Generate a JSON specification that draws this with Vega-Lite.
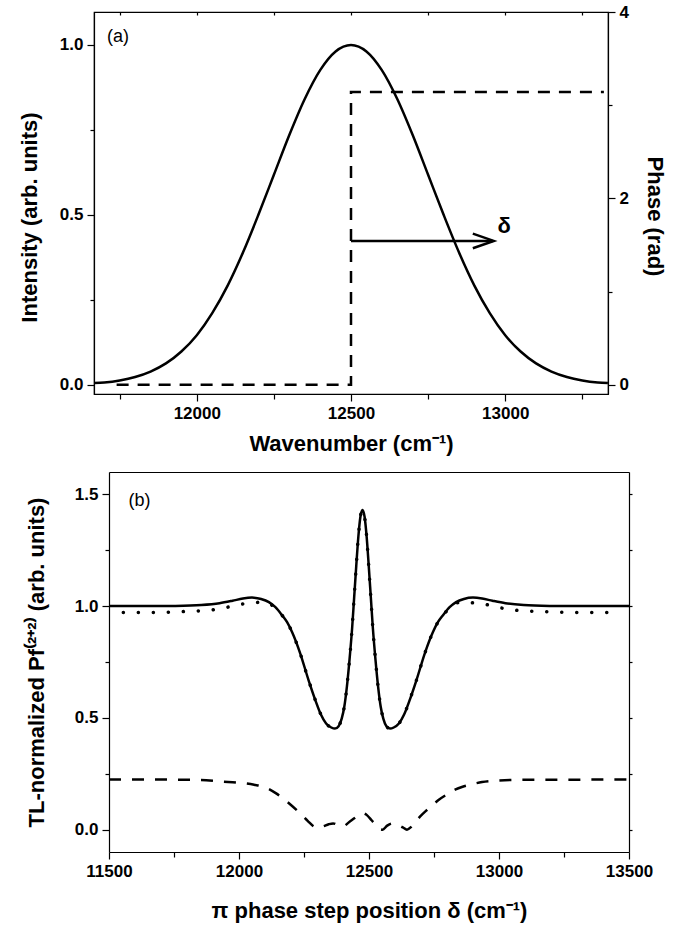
{
  "$schema": "https://vega.github.io/schema/vega-lite/v6.json",
  "background": "white",
  "padding": {"left": 17, "top": 2, "right": 5, "bottom": 4},
  "columns": 1,
  "bounds": "full",
  "spacing": 17,
  "config": {
    "font": "Liberation Sans",
    "view": {"stroke": "black", "strokeWidth": 1.2},
    "axis": {
      "domainColor": "black", "domainWidth": 1.2,
      "tickColor": "black", "tickWidth": 1.2,
      "labelColor": "black", "labelFont": "Liberation Sans", "labelFontWeight": "bold", "labelFontSize": 17,
      "titleColor": "black", "titleFont": "Liberation Sans", "titleFontWeight": "bold", "titleFontSize": 22,
      "grid": false, "labelPadding": 4, "labelOverlap": false, "labelBound": false, "labelFlush": false
    }
  },
  "concat": [
    {
      "width": 514,
      "height": 382,
      "layer": [
        {
          "data": {"values": [
            {"x": 11667, "I": 0.005}, {"x": 11700, "I": 0.007}, {"x": 11750, "I": 0.013}, {"x": 11800, "I": 0.023},
            {"x": 11850, "I": 0.039}, {"x": 11900, "I": 0.063}, {"x": 11950, "I": 0.098}, {"x": 12000, "I": 0.146},
            {"x": 12050, "I": 0.211}, {"x": 12100, "I": 0.292}, {"x": 12150, "I": 0.390}, {"x": 12200, "I": 0.501},
            {"x": 12250, "I": 0.618}, {"x": 12300, "I": 0.735}, {"x": 12350, "I": 0.841}, {"x": 12400, "I": 0.926},
            {"x": 12450, "I": 0.981}, {"x": 12500, "I": 1.0}, {"x": 12550, "I": 0.981}, {"x": 12600, "I": 0.926},
            {"x": 12650, "I": 0.841}, {"x": 12700, "I": 0.735}, {"x": 12750, "I": 0.618}, {"x": 12800, "I": 0.501},
            {"x": 12850, "I": 0.390}, {"x": 12900, "I": 0.292}, {"x": 12950, "I": 0.211}, {"x": 13000, "I": 0.146},
            {"x": 13050, "I": 0.098}, {"x": 13100, "I": 0.063}, {"x": 13150, "I": 0.039}, {"x": 13200, "I": 0.023},
            {"x": 13250, "I": 0.013}, {"x": 13300, "I": 0.007}, {"x": 13333, "I": 0.005}
          ]},
          "mark": {"type": "line", "color": "black", "strokeWidth": 2.5, "interpolate": "monotone"},
          "encoding": {
            "x": {"field": "x", "type": "quantitative",
              "scale": {"domain": [11666.67, 13333.33], "nice": false, "zero": false},
              "axis": {"title": "Wavenumber (cm⁻¹)", "values": [11750, 12000, 12250, 12500, 12750, 13000, 13250],
                "format": "d", "labelExpr": "datum.value % 500 === 0 ? datum.label : ''",
                "tickSize": {"condition": {"test": "datum.value % 500 === 0", "value": 7}, "value": 5},
                "titlePadding": 12}},
            "y": {"field": "I", "type": "quantitative",
              "scale": {"domain": [-0.027, 1.097], "nice": false, "zero": false},
              "axis": {"title": "Intensity (arb. units)", "orient": "left", "values": [0, 0.25, 0.5, 0.75, 1.0],
                "format": ".1f", "labelExpr": "datum.value === 0.25 || datum.value === 0.75 ? '' : datum.label",
                "tickSize": {"condition": {"test": "datum.value === 0.25 || datum.value === 0.75", "value": 4}, "value": 7},
                "titlePadding": 18, "titleY": 205}}
          }
        },
        {
          "data": {"values": [
            {"x": 11740, "p": 0, "o": 1}, {"x": 12500, "p": 0, "o": 2},
            {"x": 12500, "p": 3.1416, "o": 3}, {"x": 13320, "p": 3.1416, "o": 4}
          ]},
          "mark": {"type": "line", "color": "black", "strokeWidth": 2.5, "strokeDash": [12, 9]},
          "encoding": {
            "x": {"field": "x", "type": "quantitative",
              "axis": {"orient": "top", "title": null, "labels": false, "domain": false,
                "values": [11750, 12000, 12250, 12500, 12750, 13000, 13250], "tickSize": -3}},
            "y": {"field": "p", "type": "quantitative",
              "scale": {"domain": [-0.1, 4], "nice": false, "zero": false},
              "axis": {"title": "Phase (rad)", "orient": "right", "values": [0, 1, 2, 3, 4],
                "format": "d", "labelExpr": "datum.value === 1 || datum.value === 3 ? '' : datum.label",
                "tickSize": {"condition": {"test": "datum.value === 1 || datum.value === 3", "value": 4}, "value": 7},
                "labelPadding": 4, "titlePadding": 14, "titleY": 204}},
            "order": {"field": "o", "type": "quantitative"}
          }
        },
        {
          "data": {"values": [
            {"x": 12500, "y": 0.4235, "g": "shaft", "o": 1}, {"x": 12960, "y": 0.4235, "g": "shaft", "o": 2},
            {"x": 12895, "y": 0.445, "g": "head", "o": 1}, {"x": 12963, "y": 0.4235, "g": "head", "o": 2},
            {"x": 12895, "y": 0.402, "g": "head", "o": 3}
          ]},
          "mark": {"type": "line", "color": "black", "strokeWidth": 2.5},
          "encoding": {
            "x": {"field": "x", "type": "quantitative", "axis": null},
            "y": {"field": "y", "type": "quantitative", "scale": {"domain": [-0.027, 1.097], "nice": false, "zero": false}, "axis": null},
            "detail": {"field": "g"},
            "order": {"field": "o", "type": "quantitative"}
          }
        },
        {
          "data": {"values": [{"x": 12975, "y": 0.468, "t": "δ"}]},
          "mark": {"type": "text", "align": "left", "baseline": "middle", "color": "black", "font": "Liberation Sans", "fontWeight": "bold", "fontSize": 22},
          "encoding": {
            "x": {"field": "x", "type": "quantitative", "axis": null},
            "y": {"field": "y", "type": "quantitative", "scale": {"domain": [-0.027, 1.097], "nice": false, "zero": false}, "axis": null},
            "text": {"field": "t"}
          }
        },
        {
          "data": {"values": [{"x": 11709, "y": 1.0235, "t": "(a)"}]},
          "mark": {"type": "text", "align": "left", "baseline": "middle", "color": "black", "font": "Liberation Sans", "fontSize": 18},
          "encoding": {
            "x": {"field": "x", "type": "quantitative", "axis": null},
            "y": {"field": "y", "type": "quantitative", "scale": {"domain": [-0.027, 1.097], "nice": false, "zero": false}, "axis": null},
            "text": {"field": "t"}
          }
        }
      ],
      "resolve": {"scale": {"y": "independent"}, "axis": {"x": "independent"}}
    },
    {
      "width": 535,
      "height": 380,
      "view": {"stroke": null},
      "layer": [
        {
          "data": {"values": [
            {"x": 11500, "v": 1.0}, {"x": 11655, "v": 1.0}, {"x": 11755, "v": 1.001}, {"x": 11855, "v": 1.005},
            {"x": 11925, "v": 1.013}, {"x": 11975, "v": 1.024}, {"x": 12015, "v": 1.034}, {"x": 12050, "v": 1.038},
            {"x": 12085, "v": 1.032}, {"x": 12115, "v": 1.018}, {"x": 12140, "v": 0.995}, {"x": 12165, "v": 0.96},
            {"x": 12185, "v": 0.928}, {"x": 12204, "v": 0.884}, {"x": 12235, "v": 0.79}, {"x": 12268, "v": 0.667},
            {"x": 12295, "v": 0.575}, {"x": 12315, "v": 0.515}, {"x": 12335, "v": 0.475}, {"x": 12355, "v": 0.457},
            {"x": 12369, "v": 0.452}, {"x": 12383, "v": 0.463}, {"x": 12395, "v": 0.497}, {"x": 12405, "v": 0.55},
            {"x": 12415, "v": 0.64}, {"x": 12425, "v": 0.76}, {"x": 12435, "v": 0.90}, {"x": 12443, "v": 1.04},
            {"x": 12451, "v": 1.18}, {"x": 12459, "v": 1.31}, {"x": 12467, "v": 1.40}, {"x": 12475, "v": 1.43},
            {"x": 12483, "v": 1.40}, {"x": 12491, "v": 1.31}, {"x": 12499, "v": 1.18}, {"x": 12507, "v": 1.04},
            {"x": 12515, "v": 0.90}, {"x": 12525, "v": 0.76}, {"x": 12535, "v": 0.64}, {"x": 12545, "v": 0.55},
            {"x": 12555, "v": 0.497}, {"x": 12567, "v": 0.463}, {"x": 12581, "v": 0.452}, {"x": 12595, "v": 0.457},
            {"x": 12615, "v": 0.475}, {"x": 12635, "v": 0.515}, {"x": 12655, "v": 0.575}, {"x": 12682, "v": 0.667},
            {"x": 12715, "v": 0.79}, {"x": 12746, "v": 0.884}, {"x": 12765, "v": 0.928}, {"x": 12785, "v": 0.96},
            {"x": 12810, "v": 0.995}, {"x": 12835, "v": 1.018}, {"x": 12865, "v": 1.032}, {"x": 12900, "v": 1.038},
            {"x": 12935, "v": 1.034}, {"x": 12975, "v": 1.024}, {"x": 13025, "v": 1.013}, {"x": 13095, "v": 1.005},
            {"x": 13195, "v": 1.001}, {"x": 13295, "v": 1.0}, {"x": 13500, "v": 1.0}
          ]},
          "mark": {"type": "line", "color": "black", "strokeWidth": 2.5, "interpolate": "monotone"},
          "encoding": {
            "x": {"field": "x", "type": "quantitative",
              "scale": {"domain": [11500, 13500], "range": [15, 535], "nice": false, "zero": false},
              "axis": {"title": "π phase step position δ (cm⁻¹)", "values": [11500, 11750, 12000, 12250, 12500, 12750, 13000, 13250, 13500],
                "format": "d", "labelExpr": "datum.value % 500 === 0 ? datum.label : ''",
                "tickSize": {"condition": {"test": "datum.value % 500 === 0", "value": 7}, "value": 5},
                "titlePadding": 21}},
            "y": {"field": "v", "type": "quantitative",
              "scale": {"domain": [-0.1, 1.6], "nice": false, "zero": false},
              "axis": {"title": "TL-normalized Pf⁽²⁺²⁾ (arb. units)", "orient": "left", "offset": -15, "values": [0, 0.25, 0.5, 0.75, 1.0, 1.25, 1.5],
                "format": ".1f", "labelExpr": "datum.value % 0.5 === 0 ? datum.label : ''",
                "tickSize": {"condition": {"test": "datum.value % 0.5 === 0", "value": 7}, "value": 4},
                "titlePadding": 26}}
          }
        },
        {
          "data": {"values": [
            {"x": 11555, "v": 0.972}, {"x": 11675, "v": 0.972}, {"x": 11775, "v": 0.975}, {"x": 11832, "v": 0.978},
            {"x": 11890, "v": 0.982}, {"x": 11947, "v": 0.993}, {"x": 12005, "v": 1.008}, {"x": 12063, "v": 1.016},
            {"x": 12095, "v": 1.018}, {"x": 12120, "v": 1.01}, {"x": 12140, "v": 0.99}, {"x": 12165, "v": 0.96},
            {"x": 12185, "v": 0.928}, {"x": 12204, "v": 0.884}, {"x": 12235, "v": 0.79}, {"x": 12268, "v": 0.667},
            {"x": 12295, "v": 0.575}, {"x": 12315, "v": 0.515}, {"x": 12335, "v": 0.475}, {"x": 12355, "v": 0.457},
            {"x": 12369, "v": 0.452}, {"x": 12383, "v": 0.463}, {"x": 12395, "v": 0.497}, {"x": 12405, "v": 0.55},
            {"x": 12415, "v": 0.64}, {"x": 12425, "v": 0.76}, {"x": 12435, "v": 0.90}, {"x": 12443, "v": 1.04},
            {"x": 12451, "v": 1.18}, {"x": 12459, "v": 1.31}, {"x": 12467, "v": 1.40}, {"x": 12475, "v": 1.43},
            {"x": 12483, "v": 1.40}, {"x": 12491, "v": 1.31}, {"x": 12499, "v": 1.18}, {"x": 12507, "v": 1.04},
            {"x": 12515, "v": 0.90}, {"x": 12525, "v": 0.76}, {"x": 12535, "v": 0.64}, {"x": 12545, "v": 0.55},
            {"x": 12555, "v": 0.497}, {"x": 12567, "v": 0.463}, {"x": 12581, "v": 0.452}, {"x": 12595, "v": 0.457},
            {"x": 12615, "v": 0.475}, {"x": 12635, "v": 0.515}, {"x": 12655, "v": 0.575}, {"x": 12682, "v": 0.667},
            {"x": 12715, "v": 0.79}, {"x": 12746, "v": 0.884}, {"x": 12765, "v": 0.928}, {"x": 12785, "v": 0.96},
            {"x": 12810, "v": 0.99}, {"x": 12830, "v": 1.01}, {"x": 12855, "v": 1.018}, {"x": 12887, "v": 1.016},
            {"x": 12945, "v": 1.008}, {"x": 13003, "v": 0.993}, {"x": 13060, "v": 0.982}, {"x": 13118, "v": 0.978},
            {"x": 13175, "v": 0.975}, {"x": 13275, "v": 0.972}, {"x": 13420, "v": 0.972}
          ]},
          "mark": {"type": "line", "color": "black", "strokeWidth": 3.5, "strokeCap": "round", "strokeDash": [0.1, 14.9], "interpolate": "monotone"},
          "encoding": {
            "x": {"field": "x", "type": "quantitative",
              "axis": {"orient": "top", "title": null, "labels": false, "ticks": false, "domain": true}},
            "y": {"field": "v", "type": "quantitative", "axis": null}
          }
        },
        {
          "data": {"values": [
            {"x": 11500, "v": 0.224}, {"x": 11700, "v": 0.224}, {"x": 11850, "v": 0.222}, {"x": 11935, "v": 0.215},
            {"x": 12000, "v": 0.21}, {"x": 12058, "v": 0.201}, {"x": 12100, "v": 0.19}, {"x": 12146, "v": 0.16},
            {"x": 12192, "v": 0.118}, {"x": 12242, "v": 0.065}, {"x": 12265, "v": 0.038}, {"x": 12288, "v": 0.014},
            {"x": 12305, "v": 0.008}, {"x": 12325, "v": 0.015}, {"x": 12345, "v": 0.024}, {"x": 12362, "v": 0.028},
            {"x": 12385, "v": 0.018}, {"x": 12400, "v": 0.015}, {"x": 12423, "v": 0.033}, {"x": 12445, "v": 0.052},
            {"x": 12465, "v": 0.068}, {"x": 12478, "v": 0.074}, {"x": 12492, "v": 0.065}, {"x": 12510, "v": 0.042},
            {"x": 12525, "v": 0.022}, {"x": 12540, "v": 0.003}, {"x": 12552, "v": 0.0}, {"x": 12570, "v": 0.018},
            {"x": 12590, "v": 0.028}, {"x": 12610, "v": 0.022}, {"x": 12630, "v": 0.01}, {"x": 12646, "v": 0.0},
            {"x": 12665, "v": 0.015}, {"x": 12696, "v": 0.058}, {"x": 12720, "v": 0.085}, {"x": 12742, "v": 0.107},
            {"x": 12770, "v": 0.135}, {"x": 12800, "v": 0.158}, {"x": 12831, "v": 0.179}, {"x": 12860, "v": 0.192},
            {"x": 12885, "v": 0.2}, {"x": 12935, "v": 0.213}, {"x": 13000, "v": 0.22}, {"x": 13100, "v": 0.223},
            {"x": 13500, "v": 0.224}
          ]},
          "mark": {"type": "line", "color": "black", "strokeWidth": 2.5, "strokeDash": [12, 11], "interpolate": "monotone"},
          "encoding": {
            "x": {"field": "x", "type": "quantitative", "axis": null},
            "y": {"field": "v", "type": "quantitative",
              "axis": {"orient": "right", "title": null, "labels": false, "domain": true,
                "values": [0, 0.25, 0.5, 0.75, 1.0, 1.25, 1.5], "tickSize": 3}}
          }
        },
        {
          "data": {"values": [{"x": 11575, "v": 1.47, "t": "(b)"}]},
          "mark": {"type": "text", "align": "left", "baseline": "middle", "color": "black", "font": "Liberation Sans", "fontSize": 18},
          "encoding": {
            "x": {"field": "x", "type": "quantitative", "axis": null},
            "y": {"field": "v", "type": "quantitative", "axis": null},
            "text": {"field": "t"}
          }
        }
      ],
      "resolve": {"axis": {"y": "independent", "x": "independent"}}
    }
  ]
}
